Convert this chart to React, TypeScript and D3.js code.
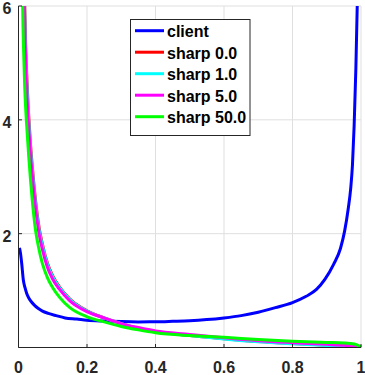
import { useEffect, useRef } from "react";
import * as d3 from "d3";

// ---- data ----
const clientX = [0.003, 0.006, 0.0093, 0.014, 0.019, 0.024, 0.03, 0.038, 0.047, 0.057, 0.07, 0.087, 0.11, 0.136, 0.17, 0.2, 0.25, 0.3, 0.35, 0.4, 0.45, 0.5, 0.55, 0.6, 0.65, 0.7, 0.75, 0.8, 0.84, 0.87, 0.895, 0.92, 0.94, 0.952, 0.963, 0.97, 0.975, 0.98, 0.985, 0.989, 0.995];
const clientY = [1.75, 1.65, 1.48, 1.19, 1.05, 0.95, 0.87, 0.8, 0.74, 0.69, 0.64, 0.6, 0.56, 0.52, 0.5, 0.48, 0.465, 0.455, 0.45, 0.452, 0.46, 0.47, 0.49, 0.52, 0.56, 0.62, 0.7, 0.79, 0.9, 1.02, 1.2, 1.46, 1.74, 2.04, 2.45, 2.8, 3.2, 3.9, 4.9, 6.0, 8.0];

const sharpX = [0.01, 0.012, 0.015, 0.018, 0.021, 0.025, 0.03, 0.035, 0.04, 0.05, 0.06, 0.07, 0.085, 0.1, 0.12, 0.15, 0.2, 0.25, 0.3, 0.35, 0.4, 0.5, 0.6, 0.7, 0.8, 0.9, 0.95, 0.98, 1.0];
const sharp0 = [10.5, 9.0, 7.3, 6.05, 5.3, 4.65, 4.05, 3.57, 3.2, 2.57, 2.11, 1.81, 1.47, 1.26, 1.06, 0.85, 0.645, 0.52, 0.42, 0.34, 0.28, 0.21, 0.155, 0.105, 0.07, 0.04, 0.025, 0.015, 0.005];
const sharp1 = [10.3, 8.8, 7.1, 5.9, 5.15, 4.55, 3.97, 3.5, 3.14, 2.52, 2.07, 1.78, 1.45, 1.24, 1.05, 0.84, 0.64, 0.52, 0.42, 0.34, 0.28, 0.21, 0.15, 0.1, 0.065, 0.035, 0.022, 0.012, 0.005];
const sharp5 = [10, 8.5, 6.9, 5.7, 5.0, 4.4, 3.85, 3.4, 3.05, 2.45, 2.0, 1.72, 1.4, 1.2, 1.02, 0.82, 0.63, 0.52, 0.42, 0.35, 0.29, 0.23, 0.17, 0.12, 0.085, 0.055, 0.04, 0.025, 0.01];
const sharp50 = [7.4, 6.1, 5.2, 4.6, 4.2, 3.8, 3.35, 2.95, 2.6, 2.05, 1.72, 1.47, 1.22, 1.05, 0.88, 0.7, 0.54, 0.45, 0.37, 0.31, 0.26, 0.21, 0.18, 0.14, 0.11, 0.09, 0.08, 0.06, 0.01];

const seriesNames = ["client", "sharp 0.0", "sharp 1.0", "sharp 5.0", "sharp 50.0"];
const seriesColors = ["#0000ff", "#ff0000", "#00ffff", "#ff00ff", "#00ff00"];
const xTicks = [0, 0.2, 0.4, 0.6, 0.8, 1];
const yTicks = [2, 4, 6];

const W = 365;
const H = 375;

export default function App() {
  const svgRef = useRef<SVGSVGElement>(null);

  useEffect(() => {
    const svg = d3.select(svgRef.current);
    svg.selectAll("*").remove();

    const x = d3.scaleLinear().domain([0, 1]).range([18.5, 361]);
    const y = d3.scaleLinear().domain([0, 6]).range([347.5, 6]);
    const font = "'Liberation Sans', Arial, sans-serif";

    // grid
    const grid = svg.append("g").attr("stroke", "#dfdfdf").attr("stroke-width", 1);
    xTicks.filter((t) => t > 0).forEach((t) => {
      grid.append("line").attr("x1", x(t)).attr("x2", x(t)).attr("y1", y(0)).attr("y2", y(6));
    });
    yTicks.forEach((t) => {
      grid.append("line").attr("x1", x(0)).attr("x2", x(1)).attr("y1", y(t)).attr("y2", y(t));
    });

    // curves, clipped to the plot box
    svg.append("clipPath").attr("id", "plotclip")
      .append("rect").attr("x", x(0)).attr("y", y(6))
      .attr("width", x(1) - x(0) + 2).attr("height", y(0) - y(6));

    const line = d3.line<[number, number]>()
      .x((d) => x(d[0])).y((d) => y(d[1]))
      .curve(d3.curveMonotoneX);
    const allSeries: [number, number][][] = [
      clientX.map((v, i) => [v, clientY[i]]),
      sharpX.map((v, i) => [v, sharp0[i]]),
      sharpX.map((v, i) => [v, sharp1[i]]),
      sharpX.map((v, i) => [v, sharp5[i]]),
      sharpX.map((v, i) => [v, sharp50[i]]),
    ];
    const curves = svg.append("g").attr("clip-path", "url(#plotclip)");
    allSeries.forEach((pts, i) => {
      curves.append("path").attr("d", line(pts)).attr("fill", "none")
        .attr("stroke", seriesColors[i]).attr("stroke-width", 3);
    });

    // axes (left + bottom only, ticks inward)
    const ax = svg.append("g").attr("stroke", "#262626").attr("stroke-width", 1);
    ax.append("line").attr("x1", x(0)).attr("x2", x(1)).attr("y1", y(0)).attr("y2", y(0));
    ax.append("line").attr("x1", x(0)).attr("x2", x(0)).attr("y1", y(0)).attr("y2", y(6));
    xTicks.forEach((t) => {
      ax.append("line").attr("x1", x(t)).attr("x2", x(t)).attr("y1", y(0)).attr("y2", y(0) - 3.5);
    });
    yTicks.forEach((t) => {
      ax.append("line").attr("x1", x(0)).attr("x2", x(0) + 3.5).attr("y1", y(t)).attr("y2", y(t));
    });

    svg.append("g").selectAll("text").data(xTicks).join("text")
      .attr("x", (d) => x(d)).attr("y", 372.5)
      .attr("text-anchor", "middle").attr("font-family", font)
      .attr("font-weight", "bold").attr("font-size", 16).attr("fill", "#262626")
      .text((d) => d3.format("")(d));

    // the top label sits a bit low in the original so it stays inside the frame
    svg.append("g").selectAll("text").data(yTicks).join("text")
      .attr("x", 11.5).attr("y", (d) => Math.max(y(d) + 8, 13))
      .attr("text-anchor", "end").attr("font-family", font)
      .attr("font-weight", "bold").attr("font-size", 16).attr("fill", "#262626")
      .text((d) => String(d));

    // legend
    const leg = svg.append("g");
    leg.append("rect").attr("x", 130.5).attr("y", 19.5).attr("width", 119.5).attr("height", 116)
      .attr("fill", "#fff").attr("stroke", "#262626").attr("stroke-width", 1);
    seriesNames.forEach((name, i) => {
      const ly = 30.7 + i * 21.5;
      leg.append("line").attr("x1", 135).attr("x2", 164).attr("y1", ly).attr("y2", ly)
        .attr("stroke", seriesColors[i]).attr("stroke-width", 3);
      leg.append("text").attr("x", 167).attr("y", ly + 6.5)
        .attr("font-family", font).attr("font-weight", "bold").attr("font-size", 16)
        .attr("fill", "#000").text(name);
    });
  }, []);

  return (
    <svg ref={svgRef} width={W} height={H}
      style={{ position: "absolute", left: 0, top: 0, background: "#fff" }} />
  );
}
